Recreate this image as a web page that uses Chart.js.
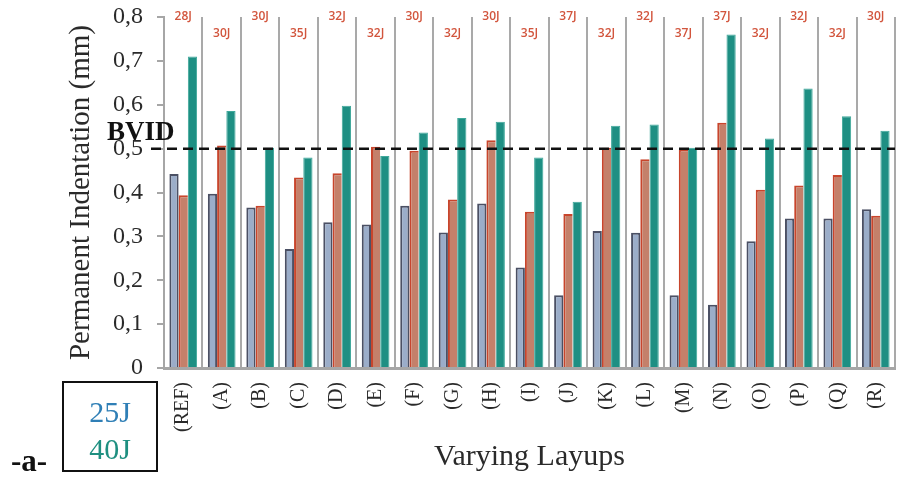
<!DOCTYPE html>
<html>
<head>
<meta charset="utf-8">
<script src="https://cdn.jsdelivr.net/npm/chart.js@4.4.0/dist/chart.umd.min.js"></script>
<style>
  body { margin: 0; background: #fff; }
  #wrap { position: relative; width: 901px; height: 479px; }
  #legende {
    position: absolute; left: 62px; top: 381px; width: 92px; height: 77px;
    border: 2px solid #111; font-family: "Liberation Serif", serif; font-size: 30px;
    text-align: center; line-height: 37px; padding-top: 10px; box-sizing: content-box;
  }
  #legende div { height: 37px; }
  #marca {
    position: absolute; left: 11px; top: 446px; font-family: "Liberation Serif", serif;
    font-weight: bold; font-size: 31px; line-height: 30px; color: #111;
  }
</style>
</head>
<body>
<div id="wrap">
  <canvas id="grafico" width="901" height="479"></canvas>
  <div id="legende"><div style="color:#2f7fb6">25J</div><div style="color:#1e8f80">40J</div></div>
  <div id="marca">-a-</div>
</div>
<script>
var camadas = ['(REF)', '(A)', '(B)', '(C)', '(D)', '(E)', '(F)', '(G)', '(H)', '(I)',
    '(J)', '(K)', '(L)', '(M)', '(N)', '(O)', '(P)', '(Q)', '(R)'];
var valores25J = [0.442, 0.397, 0.366, 0.271, 0.332, 0.327, 0.370, 0.309, 0.375, 0.229,
    0.166, 0.312, 0.308, 0.166, 0.144, 0.289, 0.341, 0.341, 0.362];
var valoresVar = [0.394, 0.507, 0.370, 0.434, 0.444, 0.504, 0.495, 0.384, 0.519, 0.356,
    0.351, 0.502, 0.476, 0.498, 0.559, 0.406, 0.416, 0.440, 0.347];
var valores40J = [0.710, 0.586, 0.502, 0.480, 0.598, 0.483, 0.537, 0.570, 0.561, 0.480,
    0.379, 0.552, 0.555, 0.502, 0.760, 0.523, 0.637, 0.574, 0.541];
var energias = ['28J', '30J', '30J', '35J', '32J', '32J', '30J', '32J', '30J', '35J',
    '37J', '32J', '32J', '37J', '37J', '32J', '32J', '32J', '30J'];
var rotulosY = ['0', '0,1', '0,2', '0,3', '0,4', '0,5', '0,6', '0,7', '0,8'];
var limiteBVID = 0.5;

var serif = '"Liberation Serif", "Times New Roman", serif';

// linha tracejada do BVID + rotulos de energia em cima
var extras = {
    id: 'extras',
    afterDatasetsDraw: function (chart) {
        var ctx = chart.ctx;
        var x = chart.scales.x;
        var y = chart.scales.y;
        var area = chart.chartArea;
        var yb = y.getPixelForValue(limiteBVID);

        ctx.save();
        ctx.strokeStyle = '#111';
        ctx.lineWidth = 2.5;
        ctx.setLineDash([10, 6]);
        ctx.beginPath();
        ctx.moveTo(area.left - 13, yb);
        ctx.lineTo(area.right, yb);
        ctx.stroke();
        ctx.setLineDash([]);

        ctx.fillStyle = '#111';
        ctx.font = 'bold 27px ' + serif;
        ctx.textAlign = 'left';
        ctx.textBaseline = 'alphabetic';
        ctx.fillText('BVID', area.left - 57, yb - 9);

        ctx.fillStyle = '#d2553d';
        ctx.font = '600 12px "Open Sans", sans-serif';
        ctx.textAlign = 'center';
        ctx.textBaseline = 'middle';
        var yTopo = y.getPixelForValue(0.8);
        for (var i = 0; i < energias.length; i++) {
            var yy = (i % 2 == 0) ? yTopo : yTopo + 17;
            ctx.fillText(energias[i], x.getPixelForValue(i), yy);
        }
        ctx.restore();
    }
};

var ctx = document.getElementById('grafico').getContext('2d');
var grafico = new Chart(ctx, {
    type: 'bar',
    data: {
        labels: camadas,
        datasets: [{
            label: '25J',
            data: valores25J,
            backgroundColor: '#9badc9',
            borderColor: '#4b5064',
            borderWidth: 2
        }, {
            label: 'variavel',
            data: valoresVar,
            backgroundColor: '#c4806a',
            borderColor: '#c8452c',
            borderWidth: { top: 2, left: 2, right: 0, bottom: 0 }
        }, {
            label: '40J',
            data: valores40J,
            backgroundColor: '#1e8f83',
            borderColor: '#3fa89b',
            borderWidth: 1
        }]
    },
    options: {
        responsive: false,
        animation: false,
        categoryPercentage: 0.72,
        barPercentage: 1,
        layout: { padding: { left: 60, top: 17, right: 6, bottom: 0 } },
        plugins: {
            legend: { display: false },
            tooltip: { enabled: false }
        },
        scales: {
            x: {
                afterFit: function (s) {
                    s.height = 111;
                    s.paddingLeft = 0; s.paddingRight = 0;
                },
                grid: { offset: true, color: '#a9a9a9', lineWidth: 2, drawTicks: false },
                border: { color: '#a6a6a6', width: 3 },
                ticks: {
                    maxRotation: 90, minRotation: 90, padding: 14, autoSkip: false,
                    color: '#2a2a2a', font: { family: serif, size: 20 }
                },
                title: {
                    display: true, text: 'Varying Layups', color: '#2a2a2a',
                    font: { family: serif, size: 30 }, padding: { top: 0, bottom: 4 }
                }
            },
            y: {
                min: 0, max: 0.8,
                afterFit: function (s) {
                    s.width = 104;
                    s.paddingTop = 0; s.paddingBottom = 0;
                },
                grid: { drawOnChartArea: false, tickLength: 7, color: '#a6a6a6', lineWidth: 2 },
                border: { color: '#a6a6a6', width: 2 },
                ticks: {
                    stepSize: 0.1, padding: 14, color: '#2a2a2a',
                    font: { family: serif, size: 24 },
                    callback: function (v, i) { return rotulosY[i]; }
                },
                title: {
                    display: true, text: 'Permanent Indentation (mm)', color: '#2a2a2a',
                    font: { family: serif, size: 29 }, padding: { top: 4, bottom: 0 }
                }
            }
        }
    },
    plugins: [extras]
});
</script>
</body>
</html>
